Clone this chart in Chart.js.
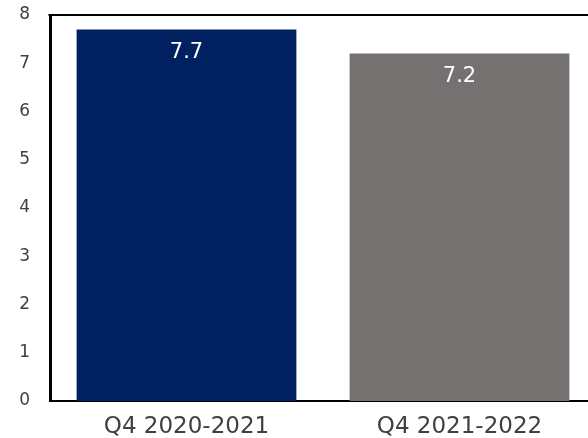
<!DOCTYPE html>
<html>
<head>
<meta charset="utf-8">
<script src="https://cdn.jsdelivr.net/npm/chart.js@4/dist/chart.umd.min.js"></script>
<style>
  html, body { margin: 0; padding: 0; background: #ffffff; overflow: hidden; }
  #wrap { width: 596px; height: 438px; }
</style>
</head>
<body>
<div id="wrap"><canvas id="c" width="596" height="438"></canvas></div>
<script>
const categories = ['Q4 2020-2021', 'Q4 2021-2022'];
const values = [7.7, 7.2];
const barColors = ['#002060', '#767171'];
const yTicks = [0, 1, 2, 3, 4, 5, 6, 7, 8];

const FONT = "'DejaVu Sans', sans-serif";

// White value labels inside the top of each bar
const valueLabels = {
  id: 'valueLabels',
  afterDatasetsDraw(chart) {
    const ctx = chart.ctx;
    const meta = chart.getDatasetMeta(0);
    ctx.save();
    ctx.fillStyle = '#ffffff';
    ctx.font = '21px ' + FONT;
    ctx.textAlign = 'center';
    ctx.textBaseline = 'middle';
    meta.data.forEach((bar, i) => {
      ctx.fillText(values[i].toFixed(1), bar.x, bar.y + 23);
    });
    ctx.restore();
  }
};

// Frame line along the top of the plot area
const topFrame = {
  id: 'topFrame',
  afterDraw(chart) {
    const { ctx, chartArea } = chart;
    ctx.save();
    ctx.strokeStyle = '#000000';
    ctx.lineWidth = 2;
    ctx.beginPath();
    ctx.moveTo(chartArea.left - 1.5, chartArea.top);
    ctx.lineTo(chartArea.right + 2, chartArea.top);
    ctx.stroke();
    ctx.restore();
  }
};

new Chart(document.getElementById('c'), {
  type: 'bar',
  data: {
    labels: categories,
    datasets: [{
      data: values,
      backgroundColor: barColors,
      categoryPercentage: 0.805,
      barPercentage: 1.0
    }]
  },
  options: {
    responsive: false,
    animation: false,
    layout: { padding: { top: 15, right: 0, left: 0, bottom: 0 } },
    plugins: { legend: { display: false }, tooltip: { enabled: false } },
    scales: {
      x: {
        grid: { display: false },
        border: { display: true, color: '#000000', width: 2 },
        ticks: { color: '#404040', font: { family: FONT, size: 23 }, padding: 4 },
        afterFit(axis) { axis.height = 37; }
      },
      y: {
        min: 0,
        max: 8,
        afterBuildTicks(axis) { axis.ticks = yTicks.map(v => ({ value: v })); },
        grid: { display: false },
        border: { display: true, color: '#000000', width: 3 },
        ticks: { color: '#404040', font: { family: FONT, size: 17 }, padding: 12 },
        afterFit(axis) {
          axis.width = 50;
          axis.paddingTop = 0;
          axis.paddingBottom = 0;
        }
      }
    }
  },
  plugins: [valueLabels, topFrame]
});
</script>
</body>
</html>
